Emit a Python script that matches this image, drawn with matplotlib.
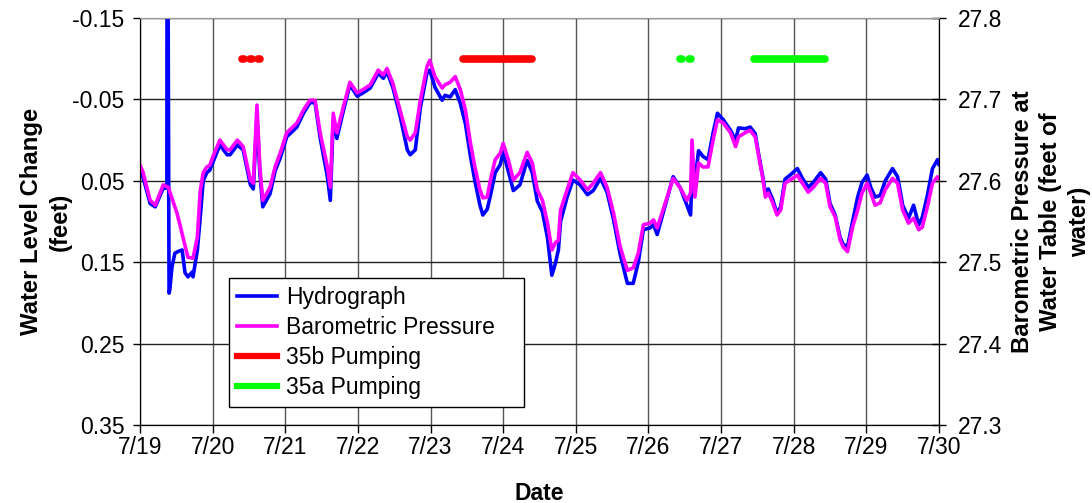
import matplotlib
matplotlib.use("Agg")
import matplotlib.pyplot as plt
from matplotlib.lines import Line2D

# ---------------- data ----------------
# time in days after 7/19 00:00
hydro_t = [0.00, 0.04, 0.14, 0.21, 0.32, 0.37, 0.375, 0.40, 0.41, 0.44, 0.48, 0.52, 0.58, 0.62,
           0.66, 0.72, 0.73, 0.79, 0.83, 0.87, 0.92, 0.96, 1.01, 1.10, 1.20, 1.24, 1.34, 1.42,
           1.52, 1.56, 1.61, 1.65, 1.69, 1.79, 1.86, 1.93, 2.02, 2.16, 2.25, 2.34, 2.41, 2.48,
           2.58, 2.62, 2.66, 2.71, 2.80, 2.89, 2.99, 3.07, 3.17, 3.28, 3.35, 3.40, 3.48, 3.58,
           3.68, 3.72, 3.79, 3.86, 3.95, 3.99, 4.06, 4.16, 4.20, 4.27, 4.34, 4.41, 4.48, 4.55,
           4.61, 4.68, 4.72, 4.78, 4.82, 4.89, 4.96, 5.00, 5.07, 5.14, 5.23, 5.33, 5.40, 5.47,
           5.54, 5.61, 5.67, 5.72, 5.76, 5.79, 5.88, 5.96, 6.06, 6.16, 6.24, 6.34, 6.43, 6.52,
           6.61, 6.71, 6.79, 6.86, 6.93, 7.02, 7.07, 7.12, 7.20, 7.30, 7.34, 7.44, 7.53, 7.58,
           7.60, 7.64, 7.69, 7.75, 7.82, 7.89, 7.95, 8.03, 8.13, 8.20, 8.24, 8.33, 8.40, 8.47,
           8.51, 8.57, 8.61, 8.65, 8.71, 8.77, 8.82, 8.88, 8.95, 9.05, 9.12, 9.20, 9.27, 9.37,
           9.44, 9.50, 9.57, 9.64, 9.68, 9.74, 9.81, 9.88, 9.94, 10.01, 10.06, 10.12, 10.19,
           10.26, 10.36, 10.43, 10.50, 10.58, 10.65, 10.72, 10.77, 10.84, 10.91, 10.98, 11.00]
hydro_ft = [0.037, 0.045, 0.078, 0.082, 0.059, 0.059, -0.50, 0.188, 0.184, 0.156, 0.139, 0.137, 0.135, 0.163,
            0.168, 0.162, 0.168, 0.135, 0.094, 0.050, 0.040, 0.037, 0.026, 0.006, 0.018, 0.018, 0.006, 0.012,
            0.055, 0.060, -0.030, 0.040, 0.082, 0.066, 0.038, 0.022, -0.004, -0.016, -0.033, -0.046, -0.046, -0.003,
            0.045, 0.074, -0.025, -0.002, -0.036, -0.068, -0.054, -0.058, -0.064, -0.082, -0.076, -0.084, -0.065, -0.030,
            0.012, 0.018, 0.012, -0.040, -0.082, -0.086, -0.065, -0.049, -0.055, -0.053, -0.062, -0.045, -0.020, 0.020,
            0.050, 0.080, 0.092, 0.085, 0.070, 0.040, 0.030, 0.015, 0.038, 0.062, 0.055, 0.025, 0.040, 0.075,
            0.088, 0.120, 0.166, 0.151, 0.135, 0.100, 0.070, 0.049, 0.055, 0.067, 0.062, 0.047, 0.064, 0.098,
            0.140, 0.176, 0.176, 0.150, 0.110, 0.108, 0.104, 0.116, 0.090, 0.058, 0.045, 0.059, 0.080, 0.092,
            0.040, 0.050, 0.013, 0.020, 0.024, -0.009, -0.033, -0.025, -0.012, 0.000, -0.015, -0.014, -0.016, -0.008,
            0.014, 0.043, 0.065, 0.060, 0.073, 0.090, 0.082, 0.048, 0.043, 0.035, 0.047, 0.058, 0.052, 0.040,
            0.048, 0.078, 0.092, 0.120, 0.128, 0.131, 0.100, 0.070, 0.052, 0.043, 0.058, 0.070, 0.068,
            0.050, 0.035, 0.045, 0.080, 0.096, 0.080, 0.104, 0.095, 0.068, 0.035, 0.024, 0.030]

baro_t = [0.00, 0.04, 0.14, 0.21, 0.32, 0.39, 0.51, 0.55, 0.59, 0.66, 0.73, 0.79, 0.83, 0.87,
          0.92, 0.96, 1.01, 1.10, 1.20, 1.24, 1.34, 1.42, 1.52, 1.56, 1.61, 1.65, 1.69, 1.79,
          1.86, 1.93, 2.02, 2.16, 2.25, 2.34, 2.41, 2.48, 2.58, 2.62, 2.66, 2.71, 2.80, 2.89,
          2.99, 3.07, 3.17, 3.28, 3.35, 3.40, 3.48, 3.58, 3.68, 3.72, 3.79, 3.86, 3.95, 3.99,
          4.06, 4.16, 4.20, 4.27, 4.34, 4.41, 4.48, 4.55, 4.61, 4.68, 4.72, 4.78, 4.82, 4.89,
          4.96, 5.00, 5.07, 5.14, 5.23, 5.33, 5.40, 5.47, 5.54, 5.61, 5.67, 5.72, 5.76, 5.79,
          5.88, 5.96, 6.06, 6.16, 6.24, 6.34, 6.43, 6.52, 6.61, 6.71, 6.79, 6.86, 6.93, 7.02,
          7.07, 7.12, 7.20, 7.30, 7.34, 7.44, 7.53, 7.58, 7.60, 7.64, 7.69, 7.75, 7.82, 7.89,
          7.95, 8.03, 8.13, 8.20, 8.24, 8.33, 8.40, 8.47, 8.51, 8.57, 8.61, 8.65, 8.71, 8.77,
          8.82, 8.88, 8.95, 9.05, 9.12, 9.20, 9.27, 9.37, 9.44, 9.50, 9.57, 9.64, 9.68, 9.74,
          9.81, 9.88, 9.94, 10.01, 10.06, 10.12, 10.19, 10.26, 10.36, 10.43, 10.50, 10.58,
          10.65, 10.72, 10.77, 10.84, 10.91, 10.98, 11.00]
baro_ft_water = [27.619, 27.611, 27.576, 27.570, 27.595, 27.592, 27.560, 27.546, 27.531, 27.506, 27.505, 27.531, 27.588, 27.610,
                 27.617, 27.619, 27.631, 27.650, 27.638, 27.638, 27.650, 27.642, 27.601, 27.597, 27.693, 27.617, 27.576, 27.592,
                 27.617, 27.634, 27.659, 27.671, 27.687, 27.699, 27.699, 27.659, 27.617, 27.592, 27.683, 27.659, 27.691, 27.721,
                 27.708, 27.712, 27.718, 27.736, 27.730, 27.738, 27.720, 27.687, 27.654, 27.650, 27.659, 27.699, 27.740, 27.748,
                 27.728, 27.714, 27.718, 27.721, 27.728, 27.712, 27.687, 27.646, 27.617, 27.589, 27.579, 27.580, 27.599, 27.626,
                 27.634, 27.646, 27.626, 27.601, 27.610, 27.635, 27.622, 27.589, 27.576, 27.548, 27.515, 27.524, 27.527, 27.564,
                 27.589, 27.610, 27.601, 27.589, 27.597, 27.610, 27.592, 27.560, 27.519, 27.490, 27.493, 27.511, 27.546, 27.548,
                 27.552, 27.542, 27.564, 27.592, 27.603, 27.591, 27.576, 27.585, 27.650, 27.580, 27.622, 27.617, 27.617, 27.650,
                 27.675, 27.671, 27.659, 27.642, 27.654, 27.659, 27.662, 27.654, 27.634, 27.605, 27.580, 27.585, 27.573, 27.558,
                 27.564, 27.597, 27.601, 27.607, 27.597, 27.586, 27.592, 27.603, 27.597, 27.568, 27.556, 27.527, 27.519, 27.513,
                 27.543, 27.564, 27.585, 27.597, 27.585, 27.570, 27.573, 27.589, 27.603, 27.597, 27.564, 27.548,
                 27.554, 27.540, 27.543, 27.568, 27.597, 27.605, 27.603]

# pumping periods (start, end) in days after 7/19
pump_35b = [(1.405, 1.435), (1.515, 1.545), (1.625, 1.655), (4.44, 5.40)]
pump_35a = [(7.43, 7.46), (7.56, 7.59), (8.45, 9.43)]
pump_marker_level = -0.10

date_ticks = list(range(12))
date_labels = ["7/19", "7/20", "7/21", "7/22", "7/23", "7/24", "7/25", "7/26",
               "7/27", "7/28", "7/29", "7/30"]
left_ticks = [-0.15, -0.05, 0.05, 0.15, 0.25, 0.35]
right_ticks = [27.3, 27.4, 27.5, 27.6, 27.7, 27.8]
legend_labels = ['Hydrograph', 'Barometric Pressure', '35b Pumping', '35a Pumping']

# ---------------- plot ----------------
plt.rcParams['font.family'] = ['Liberation Sans', 'DejaVu Sans']

fig = plt.figure(figsize=(10.92, 5.03), dpi=100)
ax = fig.add_axes([140/1092, 1 - 425/503, 799/1092, 407/503])

ax.set_xlim(0, 11)
ax.set_ylim(0.35, -0.15)

for x in date_ticks:
    ax.axvline(x, color='#555555', lw=1.0, zorder=0)
for y in left_ticks:
    ax.axhline(y, color='#222222', lw=1.0, zorder=0)

ax.plot(hydro_t, hydro_ft, color='#0000FF', lw=2.6, zorder=3)

for s, e in pump_35b:
    ax.plot([s, e], [pump_marker_level]*2, color='#FF0000', lw=5.5,
            solid_capstyle='round', zorder=3)
for s, e in pump_35a:
    ax.plot([s, e], [pump_marker_level]*2, color='#00FF00', lw=5.5,
            solid_capstyle='round', zorder=3)

ax2 = ax.twinx()
ax2.set_ylim(27.3, 27.8)
ax2.plot(baro_t, baro_ft_water, color='#FF00FF', lw=2.6)

ax.set_xticks(date_ticks)
ax.set_xticklabels(date_labels)
ax.set_yticks(left_ticks)
ax.set_yticklabels([f"{v:.2f}" for v in left_ticks])
ax2.set_yticks(right_ticks)
ax2.set_yticklabels([f"{v:.1f}" for v in right_ticks])

ax.tick_params(axis='x', direction='out', length=6, width=1, pad=2.0, labelsize=16.5)
ax.tick_params(axis='y', direction='out', length=5, width=1, pad=6, labelsize=16.5)
ax2.tick_params(axis='y', direction='inout', length=10, width=1, pad=8.5, labelsize=16.5)

for a in (ax, ax2):
    a.spines['top'].set_color('#999999')
    a.spines['left'].set_color('black')
    a.spines['right'].set_color('black')
    a.spines['bottom'].set_color('black')

ax.set_ylabel("Water Level Change\n(feet)", fontsize=17.2, fontweight='bold', linespacing=1.3)
ax.yaxis.set_label_coords(-0.086, 0.5)
ax2.set_ylabel("Barometric Pressure at\nWater Table (feet of\nwater)", fontsize=17.2,
               fontweight='bold', linespacing=1.3)
ax2.yaxis.set_label_coords(1.090, 0.5)
ax.set_xlabel("Date", fontsize=16.5, fontweight='bold')
ax.xaxis.set_label_coords(0.5, -0.14)

handles = [Line2D([], [], color='#0000FF', lw=2.6),
           Line2D([], [], color='#FF00FF', lw=2.6),
           Line2D([], [], color='#FF0000', lw=4.5),
           Line2D([], [], color='#00FF00', lw=4.5)]
leg = ax2.legend(handles, legend_labels,
                 loc='lower left', bbox_to_anchor=(0.1114, 0.0442, 0.369, 0.3),
                 mode='expand', borderaxespad=0,
                 fontsize=16.5, frameon=True, fancybox=False, shadow=False,
                 handlelength=1.75, handletextpad=0.4, labelspacing=0.3,
                 borderpad=0.35)
leg.get_frame().set_edgecolor('black')
leg.get_frame().set_linewidth(1.0)
leg.get_frame().set_facecolor('white')
leg.get_frame().set_alpha(1)

fig.savefig("out.png", dpi=100)
